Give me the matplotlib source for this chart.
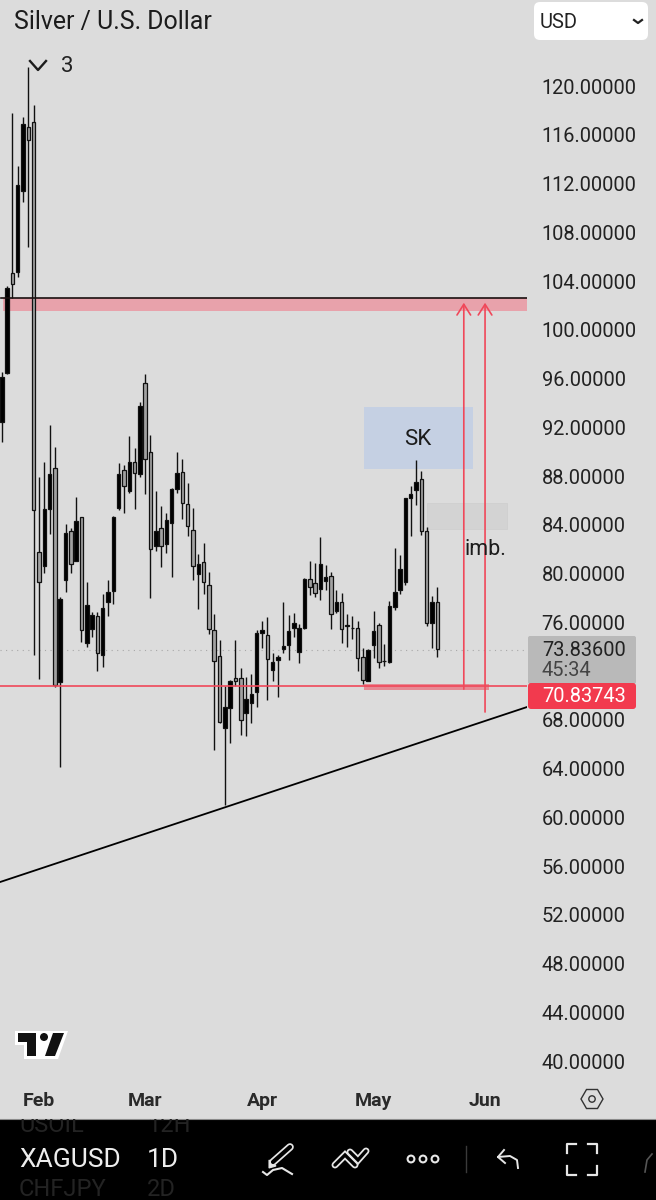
import matplotlib
matplotlib.use('Agg')
import matplotlib.pyplot as plt
from matplotlib.patches import Rectangle, FancyBboxPatch, Polygon, Circle
from matplotlib.transforms import ScaledTranslation

plt.rcParams['font.family'] = ['Roboto', 'DejaVu Sans']

# candles, left to right (daily bars from late Jan)
opens = [92.51, 96.53, 104.74, 104.82, 111.47, 116.72, 117.13, 81.85, 80.70, 85.37,
         88.73, 71.18, 79.55, 83.57, 81.11, 84.71, 74.38, 75.53, 76.59, 73.40,
         77.75, 78.65, 85.45, 88.57, 86.85, 89.23, 88.24, 95.71, 90.05, 82.34,
         83.81, 82.50, 84.23, 87.02, 88.41, 85.79, 83.65, 80.04, 81.03, 79.14,
         75.45, 73.31, 67.41, 69.05, 71.51, 71.51, 68.64, 69.46, 70.36, 75.20,
         75.04, 72.17, 72.99, 73.89, 74.22, 75.61, 73.64, 75.61, 79.63, 79.30,
         78.81, 79.47, 79.88, 77.00, 77.75, 75.80, 75.63, 75.61, 73.23, 71.26,
         74.22, 75.86, 72.88, 72.82, 77.33, 78.73, 79.39, 86.28, 86.93, 87.84,
         83.57, 76.02, 77.75]
highs = [96.62, 103.67, 117.86, 113.52, 117.54, 121.64, 118.52, 88.00, 89.23, 92.27,
         90.46, 78.16, 84.14, 83.81, 86.36, 84.71, 79.39, 76.92, 76.92, 78.40,
         79.55, 84.80, 89.15, 88.98, 91.35, 90.38, 94.15, 96.45, 91.45, 86.85,
         85.62, 85.05, 87.10, 90.05, 89.48, 87.51, 85.45, 81.68, 82.58, 80.21,
         76.76, 74.63, 70.85, 71.35, 74.63, 72.33, 71.59, 71.84, 75.45, 76.19,
         76.52, 73.56, 73.40, 77.75, 76.68, 76.84, 75.94, 79.71, 81.11, 80.94,
         83.08, 80.78, 80.21, 78.73, 78.48, 76.76, 76.59, 76.19, 73.97, 73.89,
         77.00, 76.02, 74.30, 77.83, 82.17, 81.60, 86.28, 87.26, 89.40, 88.49,
         83.90, 78.24, 78.98]
lows = [90.87, 96.45, 102.68, 104.41, 110.57, 106.87, 73.40, 71.42, 80.12, 83.32,
        70.77, 64.21, 78.57, 80.12, 81.11, 74.46, 74.05, 74.87, 72.08, 72.41,
        76.59, 77.58, 85.29, 85.05, 86.69, 85.37, 88.00, 86.60, 78.07, 81.93,
        80.62, 81.76, 79.80, 86.69, 84.55, 83.16, 79.55, 77.17, 78.40, 75.12,
        65.60, 67.82, 61.09, 66.18, 70.85, 66.83, 66.75, 67.82, 69.13, 73.97,
        69.70, 71.26, 69.95, 73.56, 72.99, 74.87, 72.74, 75.53, 78.32, 78.16,
        77.91, 78.73, 75.53, 76.84, 74.38, 74.05, 74.71, 72.08, 71.02, 71.26,
        73.15, 72.33, 72.49, 72.74, 77.09, 78.40, 79.14, 83.16, 85.70, 83.24,
        75.77, 73.97, 73.23]
closes = [96.21, 103.50, 103.83, 111.96, 116.96, 115.65, 85.29, 79.39, 85.37, 88.24,
          70.93, 77.99, 83.40, 80.86, 84.39, 75.45, 77.50, 76.68, 73.56, 77.25,
          78.57, 84.71, 88.24, 87.26, 89.23, 88.33, 93.82, 89.48, 82.09, 83.57,
          82.34, 84.47, 87.02, 88.33, 85.87, 83.98, 80.70, 80.86, 79.39, 75.53,
          72.90, 67.90, 69.13, 71.26, 71.26, 68.06, 69.79, 70.20, 75.20, 75.45,
          73.07, 72.82, 73.23, 74.13, 75.37, 76.02, 75.61, 79.63, 78.98, 78.48,
          80.86, 79.80, 76.76, 77.75, 75.53, 75.77, 75.60, 73.15, 71.35, 73.81,
          75.37, 72.82, 72.92, 77.42, 78.57, 80.45, 86.28, 86.60, 87.59, 83.57,
          76.02, 77.75, 73.89]

price_ticks = [40, 44, 48, 52, 56, 60, 64, 68, 76, 80, 84, 88, 92, 96, 100, 104, 108, 112, 116, 120]
month_pos = [7, 27, 49, 70, 91]
month_labels = ['Feb', 'Mar', 'Apr', 'May', 'Jun']

last_price = 73.836
line_price = 70.83743
trend_x = [-0.34, 98.9]
trend_y = [54.77, 69.13]

BG = '#dcdcdc'
RED = '#f0485a'

W, H = 656, 1200
fig = plt.figure(figsize=(W / 100, H / 100), dpi=100, facecolor=BG)
ax = fig.add_axes([0, (H - 1084) / H, 527 / W, 1084 / H], facecolor=BG)
ax.set_xlim(-0.34, 98.9)
ax.set_ylim(38.2, 127.14)
for s in ax.spines.values():
    s.set_visible(False)

# drawings under the candles
ax.add_patch(Rectangle((68.2, 88.66), 20.5, 5.08, color='#c5d0e3', lw=0, zorder=1))
ax.add_patch(Rectangle((80.1, 83.75), 15.0, 2.1, color='#d3d3d3', ec='#cdcdcd', lw=0.5, zorder=1))
ax.add_patch(Rectangle((0.25, 101.6), 98.7, 1.05, color='#e8a2ab', lw=0, zorder=1))
ax.axhline(last_price, color='#a8a8a8', lw=0.8, ls=(0, (1, 4)), zorder=1)

# candles
for i in range(len(opens)):
    up = closes[i] >= opens[i]
    fill = 'black' if up else '#a2a2a2'
    ax.vlines(i, lows[i], highs[i], color='#111111', lw=1.0, zorder=3)
    ax.bar(i, max(abs(closes[i] - opens[i]), 0.05), bottom=min(opens[i], closes[i]), width=0.66,
           color=fill, edgecolor='#111111', lw=0.9, zorder=4)

# levels and measures on top
ax.plot([-0.1, 98.9], [102.68, 102.68], color='#1a1010', lw=1.2, zorder=5)
ax.axhline(line_price, color=RED, lw=1.2, zorder=5)
ax.add_patch(Rectangle((68.2, 70.5), 23.5, 0.55, color=RED, alpha=0.55, lw=0, zorder=5))
ax.plot(trend_x, trend_y, color='black', lw=1.3, zorder=5)
for x0, y0 in [(87.0, 70.6), (91.0, 68.72)]:
    ax.annotate('', xy=(x0, 102.3), xytext=(x0, y0), zorder=6,
                arrowprops=dict(arrowstyle='->,head_length=0.55,head_width=0.35', color=RED, lw=1.2,
                                shrinkA=0, shrinkB=0, mutation_scale=14))
ax.text(78.4, 91.05, 'SK', fontsize=16, ha='center', va='center', color='#1c1c1c', zorder=6)
ax.text(91.0, 82.05, 'imb.', fontsize=15.5, ha='center', va='center', color='#1c1c1c', zorder=6)

# axes
ax.yaxis.tick_right()
ax.set_yticks(price_ticks)
ax.set_yticklabels(['%.5f' % p for p in price_ticks], fontsize=14.4, color='#222222')
ax.set_xticks(month_pos)
ax.set_xticklabels(month_labels, fontsize=14, fontweight='bold', color='#2a2a2a')
ax.tick_params(axis='y', length=0, pad=10.5)
ax.tick_params(axis='x', length=0, pad=5.5)
# nudge the price labels up a pixel
for t in ax.get_yticklabels():
    t.set_transform(t.get_transform() + ScaledTranslation(0, 1 / 100, fig.dpi_scale_trans))

# overlay in pixel coordinates for the app chrome
ui = fig.add_axes([0, 0, 1, 1], facecolor='none')
ui.set_xlim(0, W)
ui.set_ylim(H, 0)
ui.axis('off')

ui.text(14, 22, 'Silver / U.S. Dollar', fontsize=17.9, va='center', color='#1c1c1c')
ui.add_patch(FancyBboxPatch((534, 2), 114, 38, boxstyle='round,pad=0,rounding_size=6', fc='white', ec='none'))
ui.text(540, 22, 'USD', fontsize=14.5, va='center', color='#222222')
ui.plot([634, 638, 642], [20, 23, 20], color='#222222', lw=1.6)
ui.plot([30, 38, 46], [61, 70, 61], color='#1c1c1c', lw=1.7)
ui.text(61, 67, '3', fontsize=16, va='center', color='#222222')

# price labels
ui.add_patch(FancyBboxPatch((528, 636), 108, 48, boxstyle='round,pad=0,rounding_size=2', fc='#b9b9b9', ec='none'))
ui.text(542, 650, '73.83600', fontsize=14.4, va='center', color='#222222')
ui.text(542, 671, '45:34', fontsize=14.4, va='center', color='#444444')
ui.add_patch(FancyBboxPatch((528, 683), 108, 26, boxstyle='round,pad=0,rounding_size=3', fc='#f23a4e', ec='none'))
ui.text(542, 696, '70.83743', fontsize=14.4, va='center', color='white')

# logo
ui.add_patch(Polygon([(15, 1031), (68, 1031), (58, 1059), (24, 1059), (24, 1045), (15, 1045)],
                     closed=True, fc='white', ec='none'))
ui.add_patch(Polygon([(18, 1033), (36, 1033), (36, 1056), (27, 1056), (27, 1042), (18, 1042)],
                     closed=True, fc='#111111', ec='none'))
ui.add_patch(Polygon([(53, 1033), (64, 1033), (55, 1056), (45, 1056)], closed=True, fc='#111111', ec='none'))
ui.add_patch(Circle((44, 1037), 4, fc='#111111', ec='none'))

# settings hexagon
ui.add_patch(Polygon([(581, 1099), (586.5, 1089.5), (597.5, 1089.5), (603, 1099), (597.5, 1108.5), (586.5, 1108.5)],
                     closed=True, fc='none', ec='#333333', lw=1))
ui.add_patch(Circle((592, 1099), 3.2, fc='none', ec='#333333', lw=1))

# bottom toolbar
bar = Rectangle((0, 1119), W, 81, fc='black', ec='none')
ui.add_patch(bar)
ui.plot([0, W], [1119, 1119], color='#8a8a8a', lw=0.8)
faint = '#232323'
for x, y, s in [(19, 1125, 'USOIL'), (147, 1125, '12H'), (19, 1190, 'CHFJPY'), (147, 1190, '2D')]:
    t = ui.text(x, y, s, fontsize=17, va='center', color=faint)
    t.set_clip_path(bar)
    t.set_clip_on(True)
ui.text(19, 1160, 'XAGUSD', fontsize=19, va='center', color='#ededed')
ui.text(147, 1160, '1D', fontsize=19, va='center', color='#ededed')
# the symbol list fades out to the right
for k in range(12):
    ui.add_patch(Rectangle((100 + k * 2, 1145), 2, 30, fc='black', ec='none', alpha=min(1, k / 9)))
ui.add_patch(Rectangle((124, 1145), 16, 30, fc='black', ec='none'))

w = '#e6e6e6'
# pen
ui.plot([273, 290], [1162, 1147], color=w, lw=5.5, solid_capstyle='round')
ui.plot([273, 290], [1162, 1147], color='black', lw=3, solid_capstyle='round')
ui.add_patch(Polygon([(269, 1160), (276, 1166), (269, 1168)], closed=True, fc=w, ec=w, lw=0.8))
ui.plot([263, 267, 273, 282, 292], [1172, 1175, 1170, 1168, 1174], color=w, lw=1.5)
# zigzag tool, outlined chevrons
for xs, ys in [([335, 345, 355], [1165, 1155, 1165]), ([350, 358, 366], [1152, 1160, 1151])]:
    ui.plot(xs, ys, color=w, lw=5, solid_capstyle='round', solid_joinstyle='miter')
    ui.plot(xs, ys, color='black', lw=2.4, solid_capstyle='round', solid_joinstyle='miter')
for cx in [411, 423, 435]:
    ui.add_patch(Circle((cx, 1159), 3.4, fc='none', ec=w, lw=1.5))
ui.plot([466, 466], [1146, 1172], color='#3a3a3a', lw=1)
# undo
ui.plot([504, 498, 505], [1150, 1157, 1163], color=w, lw=1.4)
ui.plot([498, 510, 517, 518], [1157, 1156, 1160, 1168], color=w, lw=1.4)
# fullscreen brackets
for xs, ys in [([567, 567, 576], [1153, 1144, 1144]), ([588, 597, 597], [1144, 1144, 1153]),
               ([567, 567, 576], [1166, 1175, 1175]), ([588, 597, 597], [1175, 1175, 1166])]:
    ui.plot(xs, ys, color=w, lw=1.6, solid_joinstyle='round')
ui.plot([645, 647, 652], [1172, 1160, 1154], color='#555555', lw=1.2)

fig.savefig('out.png', dpi=100, facecolor=BG)
